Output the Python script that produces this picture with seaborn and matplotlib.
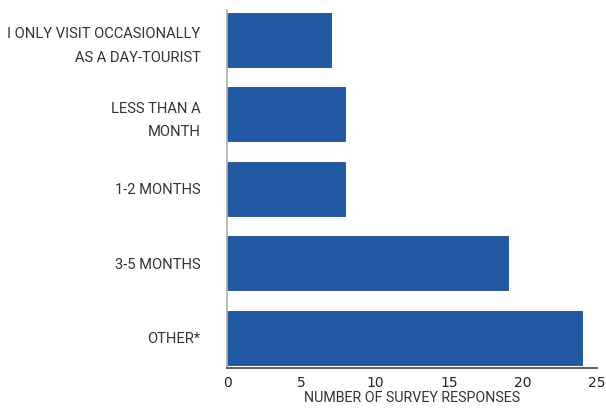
import matplotlib
matplotlib.use("Agg")
import matplotlib.pyplot as plt
import seaborn as sns
import pandas as pd

# data
categories = ["I ONLY VISIT OCCASIONALLY\nAS A DAY-TOURIST", "LESS THAN A\nMONTH",
              "1-2 MONTHS", "3-5 MONTHS", "OTHER*"]
responses = [7, 8, 8, 19, 24]
x_ticks = [0, 5, 10, 15, 20, 25]

sns.set_style("white")
plt.rcParams['font.family'] = ['Roboto', 'DejaVu Sans']

df = pd.DataFrame({"category": categories, "responses": responses})

fig = plt.figure(figsize=(6.06, 4.13), dpi=100)
ax = fig.add_axes([0.3746, 0.11, 0.6104, 0.866])

sns.barplot(data=df, y="category", x="responses", orient="h", color="#2158a3",
            width=0.73, edgecolor="#1d4c8c", linewidth=0.6, saturation=1, ax=ax)

ax.set_xlim(0, 25)
ax.set_ylim(4.40, -0.40)
ax.set_xticks(x_ticks)
ax.set_xticklabels([str(t) for t in x_ticks], fontsize=10, color="#222222",
                   family=['DejaVu Sans'])
ax.tick_params(axis="x", direction="in", length=5, width=1.2, color="#444444", pad=6)
ax.tick_params(axis="y", length=0, pad=19, labelsize=10.6, labelcolor="#333333")
for lbl in ax.get_yticklabels():
    lbl.set_linespacing(1.85)

ax.set_ylabel("")
ax.set_xlabel("NUMBER OF SURVEY RESPONSES", fontsize=10.3, color="#333333", labelpad=1)

sns.despine(ax=ax, top=True, right=True)
ax.spines["left"].set_color("#b0b0b0")
ax.spines["left"].set_linewidth(1.2)
ax.spines["bottom"].set_color("#444444")
ax.spines["bottom"].set_linewidth(1.2)

fig.savefig("out.png", dpi=100)
